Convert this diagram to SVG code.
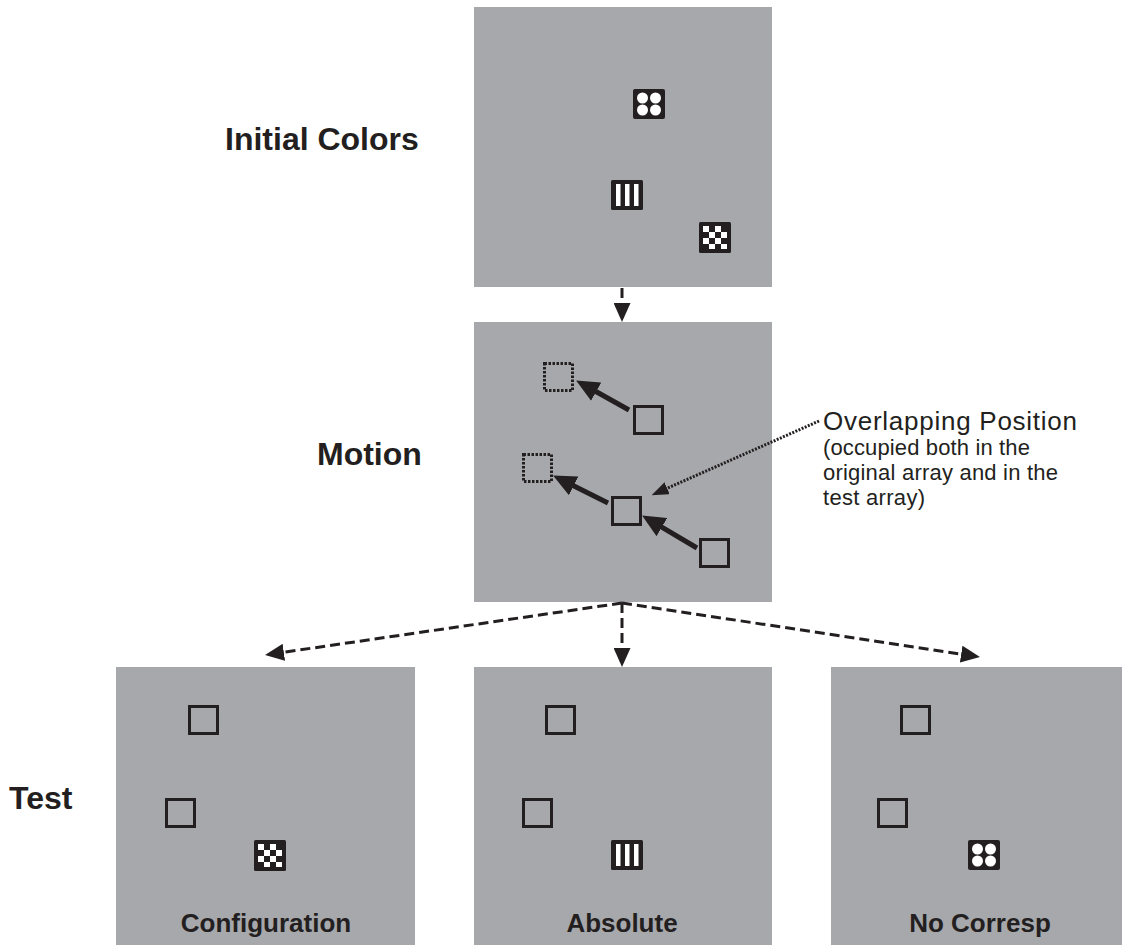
<svg xmlns="http://www.w3.org/2000/svg" xmlns:xlink="http://www.w3.org/1999/xlink" width="1122" height="945" viewBox="0 0 1122 945">
<style>
.panel{fill:#a7a8ac;}
.lbl{font-family:"Liberation Sans",Arial,sans-serif;font-weight:bold;font-size:32px;fill:#231f20;}
.cap{font-family:"Liberation Sans",Arial,sans-serif;font-weight:bold;font-size:26px;fill:#231f20;text-anchor:middle;}
.note{font-family:"Liberation Sans",Arial,sans-serif;fill:#231f20;}
.dash{fill:none;stroke:#231f20;stroke-width:3;stroke-dasharray:10 5;}
.dot{fill:none;stroke:#231f20;stroke-width:3;stroke-dasharray:2 1.4;}
.move{fill:none;stroke:#231f20;stroke-width:5;}
</style>
<defs>
<marker id="ah" markerUnits="userSpaceOnUse" markerWidth="19" markerHeight="17" refX="6" refY="8.5" orient="auto"><path d="M0,0 L19,8.5 L0,17 z" fill="#231f20"/></marker>
<marker id="mh" markerUnits="userSpaceOnUse" markerWidth="23" markerHeight="21" refX="8" refY="10.5" orient="auto"><path d="M0,0 L23,10.5 L0,21 z" fill="#231f20"/></marker>
<marker id="dh" markerUnits="userSpaceOnUse" markerWidth="17" markerHeight="13" refX="4" refY="6.5" orient="auto"><path d="M0,0 L17,6.5 L0,13 z" fill="#231f20"/></marker>
<symbol id="sq" overflow="visible"><rect x="1.5" y="1.5" width="28" height="27" fill="none" stroke="#231f20" stroke-width="3"/></symbol>
<symbol id="dsq" overflow="visible"><rect x="1.5" y="1.5" width="28" height="27" fill="none" stroke="#231f20" stroke-width="3" stroke-dasharray="2.5 1.5"/></symbol>
<symbol id="dots" overflow="visible"><rect x="0" y="0" width="32" height="30" rx="2" fill="#231f20"/><circle cx="9.5" cy="9" r="5.5" fill="#fff"/><circle cx="22.5" cy="9" r="5.5" fill="#fff"/><circle cx="9.5" cy="21" r="5.5" fill="#fff"/><circle cx="22.5" cy="21" r="5.5" fill="#fff"/></symbol>
<symbol id="stripes" overflow="visible"><rect x="0" y="0" width="32" height="30" rx="1.5" fill="#231f20"/><rect x="5" y="4" width="4.5" height="22" fill="#fff"/><rect x="14" y="4" width="4.5" height="22" fill="#fff"/><rect x="23" y="4" width="4.5" height="22" fill="#fff"/></symbol>
<symbol id="checker" overflow="visible"><rect x="0" y="0" width="32" height="31" rx="1.5" fill="#231f20"/><g fill="#fff"><rect x="4" y="4" width="6" height="6"/><rect x="16" y="4" width="6" height="6"/><rect x="10" y="10" width="6" height="6"/><rect x="22" y="10" width="6" height="6"/><rect x="4" y="16" width="6" height="6"/><rect x="16" y="16" width="6" height="6"/><rect x="10" y="22" width="6" height="5"/><rect x="22" y="22" width="6" height="5"/></g></symbol>
</defs>
<rect x="0" y="0" width="1122" height="945" fill="#fff"/>
<g id="initial-colors">
<rect class="panel" x="474" y="7" width="298" height="280"/>
<use xlink:href="#dots" x="633" y="89"/>
<use xlink:href="#stripes" x="611" y="180"/>
<use xlink:href="#checker" x="699" y="222"/>
</g>
<g id="motion">
<rect class="panel" x="474" y="322" width="298" height="280"/>
<use xlink:href="#dsq" x="543" y="362"/>
<use xlink:href="#dsq" x="522" y="453"/>
<use xlink:href="#sq" x="633" y="405"/>
<use xlink:href="#sq" x="611" y="496"/>
<use xlink:href="#sq" x="699" y="538"/>
<line class="move" x1="629" y1="410" x2="589.2" y2="387.8" marker-end="url(#mh)"/>
<line class="move" x1="608" y1="503" x2="566.5" y2="482.3" marker-end="url(#mh)"/>
<line class="move" x1="697" y1="548" x2="655" y2="523.1" marker-end="url(#mh)"/>
</g>
<g id="test-configuration">
<rect class="panel" x="116" y="667" width="299" height="278"/>
<use xlink:href="#sq" x="188" y="705"/>
<use xlink:href="#sq" x="165" y="798"/>
<use xlink:href="#checker" x="254" y="840"/>
<text class="cap" x="266" y="932">Configuration</text>
</g>
<g id="test-absolute">
<rect class="panel" x="474" y="667" width="298" height="278"/>
<use xlink:href="#sq" x="545" y="705"/>
<use xlink:href="#sq" x="522" y="798"/>
<use xlink:href="#stripes" x="611" y="840"/>
<text class="cap" x="622" y="932">Absolute</text>
</g>
<g id="test-no-corresp">
<rect class="panel" x="831" y="667" width="298" height="278"/>
<use xlink:href="#sq" x="900" y="705"/>
<use xlink:href="#sq" x="877" y="798"/>
<use xlink:href="#dots" x="968" y="840"/>
<text class="cap" x="980" y="932">No Corresp</text>
</g>
<g id="labels">
<text class="lbl" x="225" y="150">Initial Colors</text>
<text class="lbl" x="317" y="465">Motion</text>
<text class="lbl" x="9" y="809">Test</text>
</g>
<g id="overlap-note" class="note">
<text x="823" y="430" font-size="26" textLength="254" lengthAdjust="spacing">Overlapping Position</text>
<text x="823" y="455" font-size="22" textLength="207" lengthAdjust="spacing">(occupied both in the</text>
<text x="823" y="480" font-size="22" textLength="235" lengthAdjust="spacing">original array and in the</text>
<text x="823" y="505" font-size="22" textLength="102" lengthAdjust="spacing">test array)</text>
</g>
<g id="connectors">
<line class="dash" x1="622" y1="288" x2="622" y2="309" marker-end="url(#ah)"/>
<line class="dash" x1="622" y1="603" x2="622" y2="654" marker-end="url(#ah)"/>
<line class="dash" x1="622" y1="603" x2="277.9" y2="653.1" marker-end="url(#ah)"/>
<line class="dash" x1="622" y1="603" x2="967.1" y2="655" marker-end="url(#ah)"/>
<line class="dot" x1="819" y1="421" x2="663.5" y2="489.9" marker-end="url(#dh)"/>
</g>
</svg>
